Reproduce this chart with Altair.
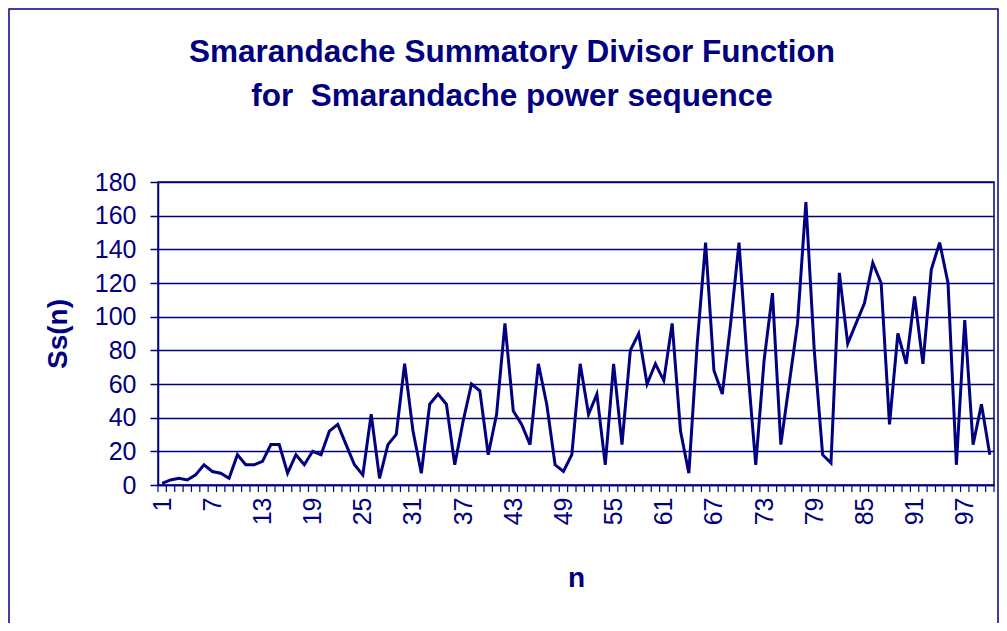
import altair as alt
import pandas as pd

# ---- data ----
n_values = list(range(1, 101))
ss_values = [
    1, 3, 4, 3, 6, 12, 8, 7, 4, 18,
    12, 12, 14, 24, 24, 7, 18, 12, 20, 18,
    32, 36, 24, 12, 6, 42, 4, 24, 30, 72,
    32, 7, 48, 54, 48, 12, 38, 60, 56, 18,
    42, 96, 44, 36, 24, 72, 48, 12, 8, 18,
    72, 42, 54, 12, 72, 24, 80, 90, 60, 72,
    62, 96, 32, 7, 84, 144, 68, 54, 96, 144,
    72, 12, 74, 114, 24, 60, 96, 168, 80, 18,
    13, 126, 84, 96, 108, 132, 120, 36, 90, 72,
    112, 72, 128, 144, 120, 12, 98, 24, 48, 18,
]
x_tick_labels = list(range(1, 101, 6))
y_tick_values = list(range(0, 181, 20))
title_lines = ["Smarandache Summatory Divisor Function", "for\u00a0 Smarandache power sequence"]

NAVY = "#000080"
FONT = "Liberation Sans"
W, H = 836, 303

df = pd.DataFrame({"n": n_values, "Ss": ss_values})
bounds = pd.DataFrame({"b": [v - 0.5 for v in n_values] + [n_values[-1] + 0.5]})

x_scale = alt.Scale(domain=[n_values[0] - 0.5, n_values[-1] + 0.5], nice=False, zero=False)
y_scale = alt.Scale(domain=[0, 180], nice=False)

x_axis = alt.Axis(
    values=x_tick_labels, labelAngle=270, ticks=False, tickSize=0, grid=False,
    title="n", labelPadding=12, titlePadding=40, labelOverlap=False, labelFlush=False,
    labelFontSize=25, titleFontSize=28, titleFontWeight="bold",
)
y_axis = alt.Axis(
    values=y_tick_values, title="Ss(n)", grid=True, gridColor=NAVY, gridWidth=1.5,
    tickSize=8, tickWidth=1.5, tickColor=NAVY, labelPadding=14, titlePadding=22,
    labelFontSize=25, titleFontSize=28, titleFontWeight="bold",
)

frame = alt.Chart(pd.DataFrame({"k": [0]})).mark_rect(
    fill="white", fillOpacity=0, stroke=NAVY, strokeWidth=1.5
).encode(
    x=alt.value(-149), x2=alt.value(W + 4), y=alt.value(-173), y2=alt.value(H + 300)
)

line = alt.Chart(df).mark_line(color=NAVY, strokeWidth=3).encode(
    x=alt.X("n:Q", scale=x_scale, axis=x_axis),
    y=alt.Y("Ss:Q", scale=y_scale, axis=y_axis),
)

ticks = alt.Chart(bounds).mark_rule(color=NAVY, strokeWidth=1.2).encode(
    x=alt.X("b:Q", scale=x_scale, axis=x_axis),
    y=alt.value(H),
    y2=alt.value(H + 7),
)

chart = alt.layer(frame, line, ticks).properties(
    width=W,
    height=H,
    title=alt.TitleParams(
        text=title_lines, fontSize=31.5, fontWeight="bold", color=NAVY, font=FONT,
        lineHeight=44, anchor="middle", frame="group", dx=-64, dy=205, offset=69,
        baseline="bottom",
    ),
    autosize=alt.AutoSizeParams(type="none"),
    padding={"left": 150, "top": 174, "right": 5, "bottom": 138},
    background="white",
).configure_view(
    stroke=NAVY, strokeWidth=1.5
).configure_axis(
    domainColor=NAVY, domainWidth=1.5, labelColor=NAVY, titleColor=NAVY,
    labelFont=FONT, titleFont=FONT,
)

chart.save("out.html", embed_options={"renderer": "svg", "actions": False})
